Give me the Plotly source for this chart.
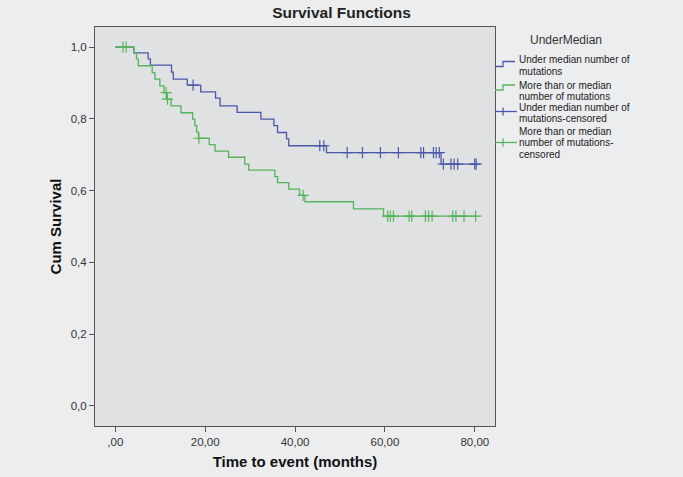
import plotly.graph_objects as go

# ---- data ----
legend_title = "UnderMedian"
blue_label = ["Under median number of", "mutations"]
green_label = ["More than or median", "number of mutations"]
blue_c_label = ["Under median number of", "mutations-censored"]
green_c_label = ["More than or median", "number of mutations-", "censored"]

blue_event_times = [4.1, 7.3, 7.8, 12.5, 12.9, 16.0, 19.0, 22.3, 23.3, 27.1, 32.4,
                    35.3, 36.1, 38.1, 38.6, 47.0, 72.5]
blue_surv = [0.984, 0.967, 0.950, 0.930, 0.911, 0.894, 0.875, 0.858, 0.836, 0.818,
             0.799, 0.781, 0.762, 0.744, 0.725, 0.706, 0.674]
blue_censor_times = [17.3, 45.5, 46.4, 51.6, 55.0, 59.0, 63.0, 68.0, 68.6, 70.8, 71.4,
                     72.1, 73.0, 74.7, 75.4, 76.2, 80.0, 80.3]

green_event_times = [4.1, 4.7, 5.1, 8.2, 8.8, 9.9, 10.8, 11.45, 12.4, 14.6, 17.2, 17.7,
                     18.1, 18.5, 20.9, 22.2, 25.2, 28.8, 29.7, 35.5, 36.1, 38.6, 41.0,
                     42.2, 53.0, 59.7]
green_surv = [0.984, 0.967, 0.948, 0.929, 0.911, 0.892, 0.873, 0.855, 0.836, 0.817,
              0.799, 0.781, 0.763, 0.746, 0.728, 0.710, 0.693, 0.674, 0.657, 0.639,
              0.622, 0.604, 0.587, 0.569, 0.549, 0.529]
green_censor_times = [1.7, 2.4, 11.3, 11.6, 18.6, 41.8, 60.6, 61.2, 61.9, 65.4, 66.0,
                      69.0, 69.7, 70.5, 75.1, 75.8, 77.6, 80.2]

x_tickvals = [0, 20, 40, 60, 80]
x_ticktext = [",00", "20,00", "40,00", "60,00", "80,00"]
y_tickvals = [0.0, 0.2, 0.4, 0.6, 0.8, 1.0]
y_ticktext = ["0,0", "0,2", "0,4", "0,6", "0,8", "1,0"]

BLUE = "#4A59A7"
GREEN = "#55B45A"
FONT = "Liberation Sans, Arial, sans-serif"

W, H = 683, 477
ML, MR, MT, MB = 95, 188, 27, 51
PW, PH = W - ML - MR, H - MT - MB


def px(xp):
    return (xp - ML) / PW


def py(yp):
    return (H - MB - yp) / PH


def step_xy(times, surv, end):
    xs = [0.0] + list(times) + [end]
    ys = [1.0] + list(surv) + [surv[-1]]
    return xs, ys


def surv_at(t, times, surv):
    s = 1.0
    for ti, si in zip(times, surv):
        if ti <= t:
            s = si
    return s


bx, by = step_xy(blue_event_times, blue_surv, max(blue_censor_times))
gx, gy = step_xy(green_event_times, green_surv, max(green_censor_times))
bcy = [surv_at(t, blue_event_times, blue_surv) for t in blue_censor_times]
gcy = [surv_at(t, green_event_times, green_surv) for t in green_censor_times]

fig = go.Figure()
fig.add_trace(go.Scatter(x=bx, y=by, mode="lines", line=dict(color=BLUE, width=1.3, shape="hv"),
                         name=" ".join(blue_label)))
fig.add_trace(go.Scatter(x=gx, y=gy, mode="lines", line=dict(color=GREEN, width=1.3, shape="hv"),
                         name=" ".join(green_label)))
fig.add_trace(go.Scatter(x=blue_censor_times, y=bcy, mode="markers",
                         marker=dict(symbol="cross-thin-open", size=8, color=BLUE,
                                     line=dict(color=BLUE, width=1.2)),
                         name=" ".join(blue_c_label)))
fig.add_trace(go.Scatter(x=green_censor_times, y=gcy, mode="markers",
                         marker=dict(symbol="cross-thin-open", size=8, color=GREEN,
                                     line=dict(color=GREEN, width=1.2)),
                         name=" ".join(green_c_label)))

# ---- hand-drawn legend (SPSS style) ----
annotations = [dict(text=legend_title, x=px(566), y=py(40), xref="paper", yref="paper",
                    xanchor="center", yanchor="middle", showarrow=False,
                    font=dict(family=FONT, size=12, color="#333333"))]
legend_rows = [(blue_label, [59.5, 71]), (green_label, [85, 96.5]),
               (blue_c_label, [107, 118.5]), (green_c_label, [131, 142.5, 154])]
for lines, ys in legend_rows:
    for t, yy in zip(lines, ys):
        annotations.append(dict(text=t, x=px(517), y=py(yy), xref="paper", yref="paper",
                                xanchor="left", yanchor="middle", showarrow=False,
                                font=dict(family=FONT, size=10, color="#222222")))


def path(pts):
    return "M " + " L ".join(f"{px(a)},{py(b)}" for a, b in pts)


shapes = [
    dict(type="path", xref="paper", yref="paper",
         path=path([(495, 66.5), (503, 66.5), (503, 61.5), (515, 61.5)]),
         line=dict(color=BLUE, width=1.3)),
    dict(type="path", xref="paper", yref="paper",
         path=path([(495, 90), (503, 90), (503, 85), (515, 85)]),
         line=dict(color=GREEN, width=1.3)),
    dict(type="path", xref="paper", yref="paper",
         path=path([(495, 111.5), (517, 111.5)]), line=dict(color=BLUE, width=1.3)),
    dict(type="path", xref="paper", yref="paper",
         path=path([(503, 107.5), (503, 115.5)]), line=dict(color=BLUE, width=1.3)),
    dict(type="path", xref="paper", yref="paper",
         path=path([(495, 142.5), (517, 142.5)]), line=dict(color=GREEN, width=1.3)),
    dict(type="path", xref="paper", yref="paper",
         path=path([(503, 138.5), (503, 146.5)]), line=dict(color=GREEN, width=1.3)),
]

axis_common = dict(showline=True, mirror=True, linecolor="#555555", linewidth=1,
                   showgrid=False, zeroline=False, ticks="outside", ticklen=5,
                   tickcolor="#555555", tickfont=dict(family=FONT, size=11.5, color="#333333"))

fig.update_layout(
    width=W, height=H,
    margin=dict(l=ML, r=MR, t=MT, b=MB, autoexpand=False),
    paper_bgcolor="#ECEDEF",
    plot_bgcolor="#E0E1E3",
    font=dict(family=FONT, color="#222222"),
    title=dict(text="<b>Survival Functions</b>", x=0.5, xref="container", xanchor="center",
               y=1, yref="container", yanchor="top", pad=dict(t=7),
               font=dict(family=FONT, size=15.5, color="#222222")),
    xaxis=dict(range=[-4.53, 84.5], tickvals=x_tickvals, ticktext=x_ticktext,
               title=dict(text="<b>Time to event (months)</b>", standoff=9,
                          font=dict(family=FONT, size=15, color="#111111")),
               **axis_common),
    yaxis=dict(range=[-0.056, 1.056], tickvals=y_tickvals, ticktext=y_ticktext,
               title=dict(text="<b>Cum Survival</b>", standoff=5,
                          font=dict(family=FONT, size=15, color="#111111")),
               **axis_common),
    showlegend=False,
    annotations=annotations,
    shapes=shapes,
)

fig.write_html("out.html", config={"displayModeBar": False},
               post_script="document.body.style.margin='0';"
                           "document.body.style.overflow='hidden';")
